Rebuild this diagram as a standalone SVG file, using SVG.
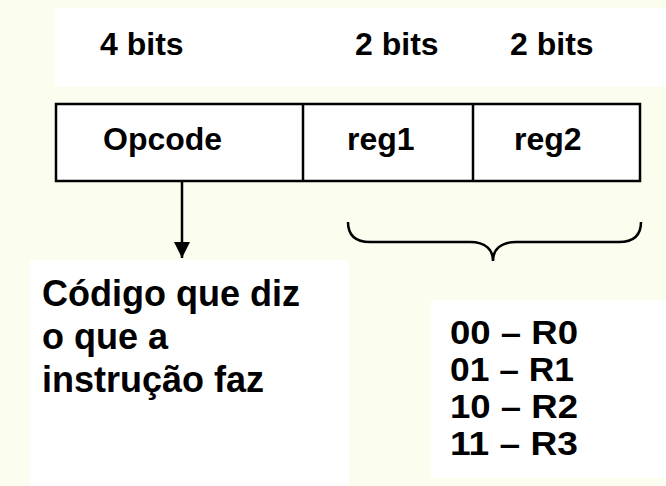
<svg xmlns="http://www.w3.org/2000/svg" width="666" height="486" viewBox="0 0 666 486">
<style>
.bg{fill:#FBFDEF}
.w{fill:#FFFFFF}
.t{font-family:"Liberation Sans",Arial,sans-serif;font-weight:bold;fill:#000}
.h{font-size:32px}
.c{font-size:32px}
.d{font-size:36px}
.r{font-size:33px}
.cell{fill:#FFFFFF;stroke:#000;stroke-width:2.5}
.ln{fill:none;stroke:#000;stroke-width:2.5}
</style>
<defs>
<marker id="ah" viewBox="0 0 10 10" refX="10" refY="5" markerWidth="6.5" markerHeight="6.5" markerUnits="strokeWidth" orient="auto">
<path d="M0,0 L10,5 L0,10 Z" fill="#000"/>
</marker>
</defs>
<rect class="bg" x="0" y="0" width="666" height="486"/>
<g id="header">
<rect class="w" x="55" y="8" width="611" height="79"/>
<text class="t h" x="100" y="55">4 bits</text>
<text class="t h" x="355" y="55">2 bits</text>
<text class="t h" x="510" y="55">2 bits</text>
</g>
<g id="instruction">
<rect class="cell" x="56" y="104" width="584" height="77"/>
<line class="ln" x1="303" y1="104" x2="303" y2="181"/>
<line class="ln" x1="473" y1="104" x2="473" y2="181"/>
<text class="t c" x="103" y="150">Opcode</text>
<text class="t c" x="347" y="150">reg1</text>
<text class="t c" x="514" y="150">reg2</text>
</g>
<g id="connectors">
<line class="ln" x1="182" y1="181" x2="182" y2="258" marker-end="url(#ah)"/>
<path class="ln" d="M348,222 C348,236 356,242 370,242 L470,242 C486,242 493,250 493,261 C493,250 500,242 516,242 L619,242 C633,242 641,236 641,222"/>
</g>
<g id="opcode-desc">
<rect class="w" x="30" y="260" width="319" height="226"/>
<text class="t d" x="42" y="306">Código que diz</text>
<text class="t d" x="42" y="349">o que a</text>
<text class="t d" x="42" y="392">instrução faz</text>
</g>
<g id="reg-codes">
<rect class="w" x="431" y="300" width="235" height="178"/>
<text class="t r" x="450" y="344" textLength="128" lengthAdjust="spacingAndGlyphs">00 – R0</text>
<text class="t r" x="450" y="381" textLength="124" lengthAdjust="spacingAndGlyphs">01 – R1</text>
<text class="t r" x="450" y="418" textLength="128" lengthAdjust="spacingAndGlyphs">10 – R2</text>
<text class="t r" x="450" y="455" textLength="128" lengthAdjust="spacingAndGlyphs">11 – R3</text>
</g>
</svg>
